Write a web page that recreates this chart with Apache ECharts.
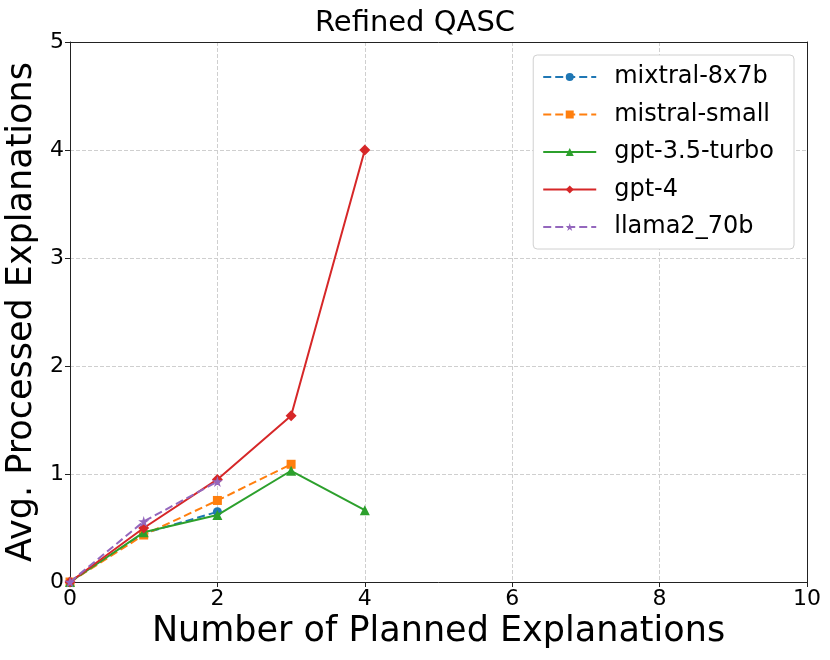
<!DOCTYPE html>
<html>
<head>
<meta charset="utf-8">
<script src="https://cdn.jsdelivr.net/npm/echarts@6/dist/echarts.min.js"></script>
<style>html,body{margin:0;padding:0;background:#fff}#c{width:830px;height:660px}</style>
</head>
<body>
<div id="c"></div>
<script>
const seriesNames = ['mixtral-8x7b', 'mistral-small', 'gpt-3.5-turbo', 'gpt-4', 'llama2_70b'];
const mixtralX = [0, 1, 2];
const mixtralY = [0, 0.45, 0.65];
const mistralX = [0, 1, 2, 3];
const mistralY = [0, 0.435, 0.755, 1.09];
const gpt35X = [0, 1, 2, 3, 4];
const gpt35Y = [0, 0.46, 0.62, 1.03, 0.665];
const gpt4X = [0, 1, 2, 3, 4];
const gpt4Y = [0, 0.50, 0.95, 1.54, 4.0];
const llamaX = [0, 1, 2];
const llamaY = [0, 0.56, 0.93];
const xTicks = [0, 2, 4, 6, 8, 10];
const yTicks = [0, 1, 2, 3, 4, 5];

const colors = ['#1f77b4', '#ff7f0e', '#2ca02c', '#d62728', '#9467bd'];
const dashes = ['dashed', 'dashed', 'solid', 'solid', 'dashed'];
const symbols = [
  'circle', 'rect', 'triangle',
  'path://M0,-1L0.55,0L0,1L-0.55,0Z',
  'path://M0,-1L0.2245,-0.309L0.951,-0.309L0.363,0.118L0.588,0.809L0,0.382L-0.588,0.809L-0.363,0.118L-0.951,-0.309L-0.2245,-0.309Z'
];
const sizes = [9, 9, 10, 11, 11];
const xs = [mixtralX, mistralX, gpt35X, gpt4X, llamaX];
const ys = [mixtralY, mistralY, gpt35Y, gpt4Y, llamaY];

const font = 'DejaVu Sans';
const frameAxis = {
  type: 'value', axisLine: {show: true, onZero: false, lineStyle: {color: '#222', width: 1}},
  axisTick: {show: false}, axisLabel: {show: false}, splitLine: {show: false}
};
const chart = echarts.init(document.getElementById('c'), null, {renderer: 'canvas'});
chart.setOption({
  animation: false,
  backgroundColor: '#fff',
  title: {
    text: 'Refined QASC', left: 'center', top: 4,
    textStyle: {fontFamily: font, fontSize: 29, fontWeight: 'normal', color: '#000'}
  },
  grid: {left: 70, right: 23, top: 42, bottom: 78, show: false, outerBoundsMode: 'none', containLabel: false},
  legend: {
    orient: 'vertical', right: 36, top: 55,
    data: seriesNames,
    itemWidth: 53, itemHeight: 10, itemGap: 11.5,
    padding: [9, 20, 9, 9],
    borderColor: '#d0d0d0', borderWidth: 1, borderRadius: 4,
    backgroundColor: '#fff',
    textStyle: {fontFamily: font, fontSize: 24, lineHeight: 26, color: '#000', padding: [0, 0, 0, 13]}
  },
  xAxis: [{
    type: 'value', min: xTicks[0], max: xTicks[xTicks.length - 1], interval: 2,
    name: 'Number of Planned Explanations', nameLocation: 'middle', nameGap: 32,
    nameTextStyle: {fontFamily: font, fontSize: 35, color: '#000'},
    axisLine: {show: true, onZero: false, lineStyle: {color: '#222', width: 1}},
    axisTick: {show: true, length: 5, lineStyle: {color: '#222'}},
    axisLabel: {fontFamily: font, fontSize: 22, color: '#000', margin: 6},
    splitLine: {show: true, lineStyle: {type: 'dashed', color: '#cfcfcf', width: 1}}
  }, Object.assign({position: 'top', min: 0, max: 10}, frameAxis)],
  yAxis: [{
    type: 'value', min: yTicks[0], max: yTicks[yTicks.length - 1], interval: 1,
    name: 'Avg. Processed Explanations', nameLocation: 'middle', nameGap: 24,
    nameTextStyle: {fontFamily: font, fontSize: 35, color: '#000'},
    axisLine: {show: true, onZero: false, lineStyle: {color: '#222', width: 1}},
    axisTick: {show: true, length: 5, lineStyle: {color: '#222'}},
    axisLabel: {fontFamily: font, fontSize: 22, color: '#000', margin: 6},
    splitLine: {show: true, lineStyle: {type: 'dashed', color: '#cfcfcf', width: 1}}
  }, Object.assign({position: 'right', min: 0, max: 5}, frameAxis)],
  series: seriesNames.map((n, i) => ({
    name: n, type: 'line', z: 2 + i,
    data: xs[i].map((x, j) => [x, ys[i][j]]),
    symbol: symbols[i], symbolSize: sizes[i], showAllSymbol: true,
    itemStyle: {color: colors[i]},
    lineStyle: {color: colors[i], width: 2, type: dashes[i]}
  }))
});
</script>
</body>
</html>
